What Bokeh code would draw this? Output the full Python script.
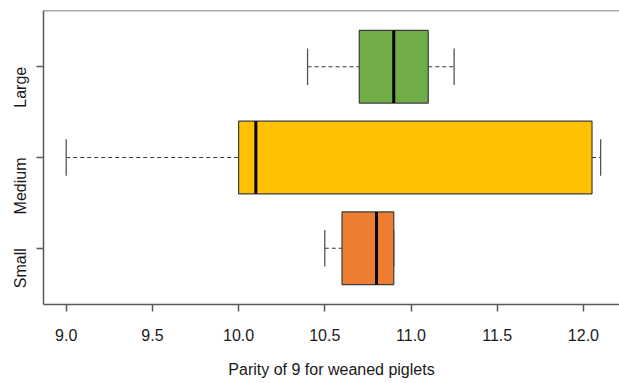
import math
from bokeh.plotting import figure
from bokeh.models import FixedTicker, PrintfTickFormatter, Span, ColumnDataSource, Range1d
from bokeh.embed import file_html
from bokeh.resources import INLINE

# Five-number summaries per litter-size group
groups = ["Small", "Medium", "Large"]
positions = [1, 2, 3]
whisker_low = [10.5, 9.0, 10.4]
q1 = [10.6, 10.0, 10.7]
median = [10.8, 10.1, 10.9]
q3 = [10.9, 12.05, 11.1]
whisker_high = [10.9, 12.1, 11.25]
colors = ["#ED7D31", "#FFC000", "#70AD47"]
x_ticks = [9.0, 9.5, 10.0, 10.5, 11.0, 11.5, 12.0]
x_title = "Parity of 9 for weaned piglets"

box_h = 0.8
cap_h = 0.4

src = ColumnDataSource(dict(
    pos=positions, lo=whisker_low, q1=q1, med=median, q3=q3, hi=whisker_high,
    color=colors,
    bot=[p - box_h / 2 for p in positions], top=[p + box_h / 2 for p in positions],
    cbot=[p - cap_h / 2 for p in positions], ctop=[p + cap_h / 2 for p in positions],
))

FONT = "Liberation Sans"
FRAME = "#5a5a5a"
TEXT = "#1a1a1a"

p = figure(width=619, height=383, output_backend="svg", toolbar_location=None,
           x_range=Range1d(8.8683, 12.2094), y_range=Range1d(0.38, 3.62),
           min_border_left=43, min_border_right=0, min_border_top=10, min_border_bottom=79,
           background_fill_color="white", border_fill_color="white")
p.outline_line_color = None
p.grid.visible = False

# whiskers and staples
p.segment(x0="lo", y0="pos", x1="q1", y1="pos", source=src, line_color="#3a3a3a",
          line_width=1.2, line_dash="4 3")
p.segment(x0="q3", y0="pos", x1="hi", y1="pos", source=src, line_color="#3a3a3a",
          line_width=1.2, line_dash="4 3")
p.segment(x0="lo", y0="cbot", x1="lo", y1="ctop", source=src, line_color="#555555", line_width=1.3)
p.segment(x0="hi", y0="cbot", x1="hi", y1="ctop", source=src, line_color="#555555", line_width=1.3)

# boxes
p.quad(left="q1", right="q3", bottom="bot", top="top", source=src,
       fill_color="color", line_color="#3c3c3c", line_width=1.2)

# medians
p.segment(x0="med", y0="bot", x1="med", y1="top", source=src, line_color="black", line_width=3)

# top border of the plotting box
p.add_layout(Span(location=3.62, dimension="width", line_color=FRAME, line_width=1.5))

xa = p.xaxis[0]
xa.ticker = FixedTicker(ticks=x_ticks)
xa.formatter = PrintfTickFormatter(format="%.1f")
xa.axis_label = x_title

ya = p.yaxis[0]
ya.ticker = FixedTicker(ticks=positions)
ya.major_label_overrides = {pos: g for pos, g in zip(positions, groups)}
ya.major_label_orientation = math.pi / 2

for ax in (xa, ya):
    ax.axis_line_color = FRAME
    ax.axis_line_width = 1.5
    ax.major_tick_line_color = FRAME
    ax.major_tick_line_width = 1.5
    ax.major_tick_out = 7
    ax.major_tick_in = 0
    ax.minor_tick_line_color = None
    ax.major_label_text_font = FONT
    ax.major_label_text_font_size = "16px"
    ax.major_label_text_color = TEXT
    ax.axis_label_text_font = FONT
    ax.axis_label_text_font_size = "16px"
    ax.axis_label_text_font_style = "normal"
    ax.axis_label_text_color = TEXT

xa.major_label_standoff = 17
xa.axis_label_standoff = 17
ya.major_label_standoff = 16

open("out.html", "w").write(file_html(p, INLINE))
